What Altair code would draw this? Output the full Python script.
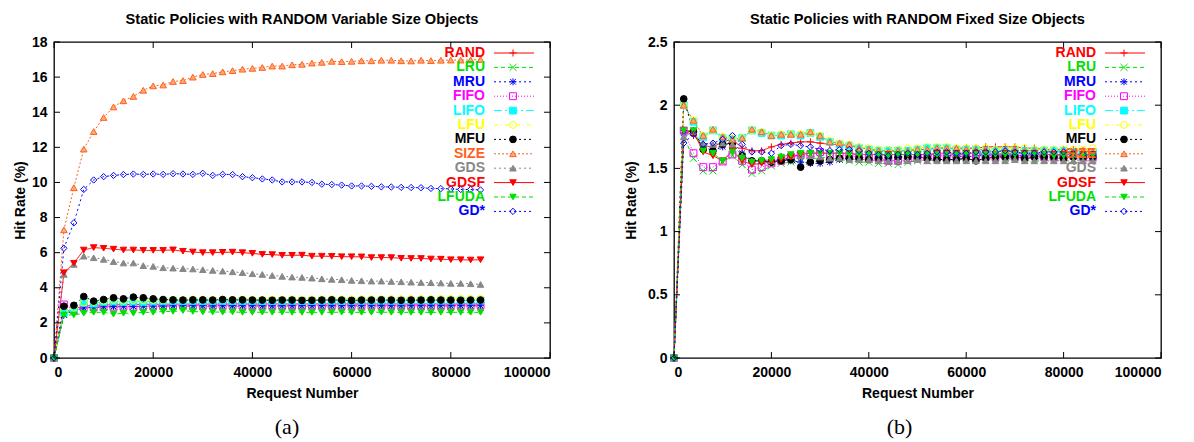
import altair as alt
import pandas as pd

# Request numbers at which the hit rate was sampled
requests = [0, 2000, 4000, 6000, 8000, 10000, 12000, 14000, 16000, 18000, 20000,
            22000, 24000, 26000, 28000, 30000, 32000, 34000, 36000, 38000, 40000,
            42000, 44000, 46000, 48000, 50000, 52000, 54000, 56000, 58000, 60000,
            62000, 64000, 66000, 68000, 70000, 72000, 74000, 76000, 78000, 80000,
            82000, 84000, 86000]

policies = ["RAND", "LRU", "MRU", "FIFO", "LIFO", "LFU", "MFU", "SIZE", "GDS",
            "GDSF", "LFUDA", "GD*"]

x_ticks = [0, 20000, 40000, 60000, 80000, 100000]
y_ticks_var = [0, 2, 4, 6, 8, 10, 12, 14, 16, 18]
y_ticks_fix = [0, 0.5, 1, 1.5, 2, 2.5]

# ---- (a) variable size objects: hit rate (%) ----
var_rand = [0, 2.6, 2.8, 2.95, 3.0, 3.02, 3.03, 3.04, 3.05, 3.05, 3.06, 3.06, 3.07, 3.07, 3.07,
            3.07, 3.07, 3.07, 3.08, 3.08, 3.07, 3.08, 3.08, 3.08, 3.08, 3.08, 3.08, 3.08, 3.08,
            3.08, 3.08, 3.08, 3.08, 3.08, 3.08, 3.08, 3.07, 3.08, 3.08, 3.08, 3.07, 3.08, 3.08, 3.07]
var_lru = [0, 2.5, 2.75, 2.85, 2.87, 2.9, 2.9, 2.92, 2.92, 2.93, 2.94, 2.94, 2.95, 2.95, 2.95,
           2.95, 2.95, 2.96, 2.95, 2.95, 2.96, 2.95, 2.96, 2.96, 2.95, 2.96, 2.96, 2.96, 2.96,
           2.96, 2.96, 2.96, 2.96, 2.96, 2.96, 2.96, 2.96, 2.96, 2.96, 2.96, 2.96, 2.96, 2.96, 2.96]
var_mru = [0, 2.45, 2.7, 2.85, 2.9, 2.92, 2.93, 2.95, 2.94, 2.96, 2.96, 2.97, 2.97, 2.98, 2.98,
           2.98, 2.97, 2.98, 2.98, 2.98, 2.98, 2.98, 2.97, 2.98, 2.98, 2.98, 2.98, 2.98, 2.98,
           2.98, 2.98, 2.98, 2.98, 2.98, 2.98, 2.98, 2.98, 2.98, 2.98, 2.98, 2.98, 2.98, 2.98, 2.98]
var_fifo = [0, 3.05, 2.75, 2.9, 2.88, 2.9, 2.92, 2.93, 2.92, 2.95, 2.97, 2.98, 2.99, 3.0, 3.0,
            3.0, 2.99, 3.0, 3.0, 2.99, 3.0, 3.0, 3.0, 2.99, 3.0, 3.0, 3.0, 3.0, 3.0,
            3.0, 3.0, 3.0, 3.0, 3.0, 3.0, 3.0, 3.0, 3.0, 3.0, 3.0, 3.0, 3.0, 3.0, 3.0]
var_lifo = [0, 2.6, 2.8, 3.15, 3.1, 3.2, 3.22, 3.2, 3.22, 3.2, 3.22, 3.23, 3.25, 3.24, 3.25,
            3.24, 3.25, 3.25, 3.24, 3.25, 3.25, 3.24, 3.25, 3.25, 3.26, 3.25, 3.25, 3.26, 3.26,
            3.25, 3.26, 3.26, 3.26, 3.27, 3.26, 3.26, 3.27, 3.27, 3.27, 3.27, 3.27, 3.28, 3.27, 3.28]
var_lfu = [0, 2.7, 2.85, 3.15, 3.2, 3.25, 3.3, 3.25, 3.3, 3.28, 3.3, 3.3, 3.33, 3.32, 3.34,
           3.33, 3.33, 3.34, 3.33, 3.34, 3.33, 3.33, 3.34, 3.34, 3.35, 3.34, 3.35, 3.35, 3.36,
           3.35, 3.35, 3.36, 3.36, 3.36, 3.37, 3.36, 3.37, 3.37, 3.37, 3.38, 3.37, 3.38, 3.38, 3.38]
var_mfu = [0, 2.95, 3.0, 3.5, 3.24, 3.33, 3.43, 3.37, 3.47, 3.43, 3.37, 3.33, 3.31, 3.3, 3.31,
           3.31, 3.3, 3.33, 3.31, 3.31, 3.3, 3.3, 3.29, 3.3, 3.3, 3.28, 3.29, 3.3, 3.31,
           3.3, 3.28, 3.3, 3.3, 3.31, 3.3, 3.29, 3.3, 3.3, 3.31, 3.3, 3.3, 3.29, 3.3, 3.3]
var_size = [0, 7.3, 9.7, 11.9, 12.9, 13.7, 14.3, 14.65, 14.9, 15.25, 15.5, 15.55, 15.75, 15.8, 16.0,
            16.15, 16.2, 16.3, 16.37, 16.45, 16.5, 16.55, 16.63, 16.63, 16.7, 16.73, 16.8, 16.84, 16.9,
            16.88, 16.9, 16.93, 16.93, 16.96, 16.96, 16.93, 16.92, 16.96, 16.94, 16.96, 16.97, 16.97, 16.98, 17.0]
var_gds = [0, 4.76, 5.33, 5.8, 5.71, 5.62, 5.49, 5.41, 5.41, 5.26, 5.22, 5.14, 5.12, 5.09, 5.07,
           5.03, 4.99, 4.95, 4.91, 4.86, 4.8, 4.76, 4.7, 4.65, 4.61, 4.59, 4.55, 4.51, 4.48,
           4.46, 4.42, 4.4, 4.38, 4.38, 4.36, 4.34, 4.32, 4.3, 4.29, 4.27, 4.25, 4.25, 4.23, 4.19]
var_gdsf = [0, 4.86, 5.4, 6.15, 6.29, 6.25, 6.2, 6.15, 6.15, 6.13, 6.13, 6.13, 6.16, 6.08, 6.04,
            6.0, 6.0, 6.02, 6.03, 6.0, 5.96, 5.9, 5.89, 5.85, 5.85, 5.86, 5.8, 5.8, 5.79,
            5.77, 5.77, 5.76, 5.72, 5.72, 5.72, 5.68, 5.67, 5.67, 5.64, 5.63, 5.6, 5.6, 5.58, 5.6]
var_lfuda = [0, 2.45, 2.45, 2.55, 2.6, 2.6, 2.5, 2.55, 2.55, 2.6, 2.6, 2.65, 2.65, 2.7, 2.65,
             2.62, 2.62, 2.61, 2.62, 2.6, 2.6, 2.61, 2.6, 2.61, 2.6, 2.6, 2.6, 2.6, 2.6,
             2.61, 2.6, 2.6, 2.6, 2.61, 2.6, 2.6, 2.6, 2.6, 2.6, 2.6, 2.6, 2.6, 2.6, 2.6]
var_gdstar = [0, 6.25, 7.7, 9.6, 10.14, 10.33, 10.4, 10.45, 10.48, 10.46, 10.48, 10.46, 10.5, 10.48, 10.46,
              10.52, 10.4, 10.46, 10.45, 10.33, 10.27, 10.2, 10.14, 10.03, 10.03, 10.03, 10.0, 9.9, 9.88,
              9.85, 9.8, 9.8, 9.78, 9.75, 9.74, 9.72, 9.71, 9.7, 9.66, 9.65, 9.63, 9.6, 9.6, 9.57]

# ---- (b) fixed size objects: hit rate (%) ----
fix_rand = [0, 1.80, 1.76, 1.68, 1.67, 1.71, 1.73, 1.66, 1.64, 1.64, 1.67, 1.69, 1.70, 1.71, 1.71,
            1.70, 1.69, 1.69, 1.68, 1.67, 1.65, 1.64, 1.64, 1.64, 1.64, 1.65, 1.65, 1.66, 1.66,
            1.66, 1.66, 1.66, 1.67, 1.67, 1.67, 1.67, 1.66, 1.66, 1.65, 1.65, 1.65, 1.65, 1.64, 1.63]
fix_lru = [0, 1.75, 1.58, 1.48, 1.48, 1.55, 1.60, 1.53, 1.46, 1.48, 1.52, 1.54, 1.55, 1.57, 1.58,
           1.58, 1.58, 1.57, 1.56, 1.55, 1.55, 1.54, 1.54, 1.53, 1.55, 1.56, 1.56, 1.57, 1.57,
           1.57, 1.58, 1.57, 1.57, 1.58, 1.58, 1.57, 1.58, 1.58, 1.57, 1.58, 1.58, 1.57, 1.58, 1.58]
fix_mru = [0, 1.78, 1.80, 1.67, 1.64, 1.67, 1.72, 1.62, 1.56, 1.56, 1.55, 1.58, 1.56, 1.55, 1.54,
           1.54, 1.55, 1.57, 1.58, 1.58, 1.58, 1.59, 1.58, 1.59, 1.59, 1.60, 1.60, 1.60, 1.60,
           1.60, 1.59, 1.60, 1.60, 1.61, 1.60, 1.60, 1.60, 1.61, 1.60, 1.61, 1.60, 1.60, 1.60, 1.61]
fix_fifo = [0, 1.80, 1.62, 1.51, 1.51, 1.555, 1.61, 1.56, 1.49, 1.51, 1.54, 1.56, 1.59, 1.605, 1.61,
            1.63, 1.61, 1.60, 1.60, 1.59, 1.58, 1.58, 1.56, 1.56, 1.58, 1.58, 1.59, 1.59, 1.59,
            1.59, 1.60, 1.59, 1.59, 1.59, 1.60, 1.59, 1.59, 1.60, 1.59, 1.59, 1.59, 1.60, 1.59, 1.59]
fix_lifo = [0, 2.0, 1.87, 1.75, 1.80, 1.74, 1.73, 1.74, 1.80, 1.78, 1.76, 1.76, 1.77, 1.76, 1.78,
            1.75, 1.71, 1.69, 1.68, 1.66, 1.65, 1.64, 1.64, 1.64, 1.64, 1.65, 1.66, 1.66, 1.66,
            1.65, 1.65, 1.65, 1.64, 1.64, 1.64, 1.64, 1.64, 1.64, 1.64, 1.64, 1.64, 1.63, 1.63, 1.63]
fix_lfu = [0, 2.0, 1.88, 1.76, 1.80, 1.75, 1.74, 1.74, 1.80, 1.79, 1.76, 1.77, 1.77, 1.77, 1.78,
           1.76, 1.72, 1.70, 1.69, 1.67, 1.66, 1.65, 1.65, 1.65, 1.66, 1.66, 1.67, 1.67, 1.67,
           1.66, 1.66, 1.66, 1.66, 1.65, 1.66, 1.66, 1.66, 1.65, 1.65, 1.65, 1.65, 1.65, 1.65, 1.66]
fix_mfu = [0, 2.05, 1.79, 1.65, 1.64, 1.69, 1.70, 1.60, 1.56, 1.56, 1.55, 1.56, 1.57, 1.51, 1.55,
           1.56, 1.57, 1.58, 1.58, 1.58, 1.57, 1.58, 1.59, 1.59, 1.59, 1.59, 1.58, 1.57, 1.57,
           1.57, 1.58, 1.56, 1.58, 1.59, 1.59, 1.59, 1.58, 1.59, 1.59, 1.59, 1.58, 1.59, 1.59, 1.59]
fix_size = [0, 2.0, 1.88, 1.76, 1.81, 1.75, 1.73, 1.74, 1.81, 1.79, 1.76, 1.77, 1.77, 1.77, 1.79,
            1.76, 1.71, 1.70, 1.69, 1.66, 1.65, 1.64, 1.63, 1.64, 1.64, 1.65, 1.65, 1.66, 1.66,
            1.66, 1.65, 1.65, 1.65, 1.64, 1.64, 1.65, 1.64, 1.64, 1.64, 1.63, 1.64, 1.63, 1.64, 1.63]
fix_gds = [0, 1.75, 1.79, 1.70, 1.69, 1.70, 1.69, 1.60, 1.56, 1.57, 1.56, 1.60, 1.60, 1.60, 1.60,
           1.59, 1.58, 1.58, 1.57, 1.57, 1.57, 1.56, 1.56, 1.56, 1.56, 1.57, 1.56, 1.56, 1.56,
           1.56, 1.56, 1.56, 1.56, 1.56, 1.56, 1.57, 1.56, 1.56, 1.56, 1.56, 1.56, 1.56, 1.56, 1.56]
fix_gdsf = [0, 1.80, 1.79, 1.63, 1.60, 1.56, 1.64, 1.56, 1.53, 1.54, 1.55, 1.57, 1.59, 1.61, 1.62,
            1.62, 1.62, 1.62, 1.62, 1.61, 1.61, 1.61, 1.61, 1.61, 1.61, 1.61, 1.61, 1.62, 1.62,
            1.62, 1.62, 1.62, 1.62, 1.61, 1.62, 1.62, 1.62, 1.62, 1.61, 1.61, 1.61, 1.61, 1.61, 1.61]
fix_lfuda = [0, 1.80, 1.80, 1.64, 1.62, 1.56, 1.63, 1.58, 1.55, 1.56, 1.57, 1.59, 1.61, 1.62, 1.62,
             1.62, 1.62, 1.62, 1.61, 1.61, 1.61, 1.61, 1.60, 1.61, 1.61, 1.61, 1.61, 1.61, 1.61,
             1.61, 1.61, 1.61, 1.61, 1.61, 1.61, 1.61, 1.61, 1.61, 1.61, 1.60, 1.60, 1.60, 1.60, 1.60]
fix_gdstar = [0, 1.70, 1.77, 1.69, 1.70, 1.73, 1.76, 1.69, 1.63, 1.63, 1.62, 1.68, 1.69, 1.68, 1.67,
              1.65, 1.64, 1.65, 1.65, 1.64, 1.62, 1.61, 1.60, 1.61, 1.62, 1.61, 1.62, 1.63, 1.63,
              1.62, 1.62, 1.63, 1.63, 1.63, 1.64, 1.63, 1.62, 1.62, 1.63, 1.63, 1.63, 1.62, 1.61, 1.61]

var_series = [var_rand, var_lru, var_mru, var_fifo, var_lifo, var_lfu, var_mfu, var_size,
              var_gds, var_gdsf, var_lfuda, var_gdstar]
fix_series = [fix_rand, fix_lru, fix_mru, fix_fifo, fix_lifo, fix_lfu, fix_mfu, fix_size,
              fix_gds, fix_gdsf, fix_lfuda, fix_gdstar]

# ---- gnuplot-like styling per policy ----
colors = ["#ff0000", "#00e000", "#0000ff", "#ff00ff", "#00ffff", "#ffff00", "#000000",
          "#ff6020", "#888888", "#ff0000", "#00e000", "#0000ff"]
fills = ["transparent", "transparent", "#0000ff", "transparent", "#00ffff", "transparent",
         "#000000", "#ffa870", "#888888", "#ff0000", "#00e000", "transparent"]
dashes = [[1, 0], [4, 3], [2, 3], [1, 2], [8, 3, 2, 3], [4, 3, 1, 3], [2, 3], [2, 2],
          [2, 3], [1, 0], [4, 3], [2, 3]]
widths = [1, 1, 1, 1, 1, 1, 1, 1, 1, 2, 1, 1]
shapes = ["M-1,0H1M0,-1V1", "M-1,-1L1,1M-1,1L1,-1",
          "M-1,0H1M0,-1V1M-0.8,-0.8L0.8,0.8M-0.8,0.8L0.8,-0.8",
          "square", "square", "circle", "circle", "triangle-up", "triangle-up",
          "triangle-down", "triangle-down", "diamond"]
sizes = [50, 40, 50, 45, 45, 45, 50, 55, 25, 60, 25, 50]

FONT = "Liberation Sans"
H = 316


def panel(title, series, ymax, yticks, W, tag, tag_dx, ytitle_pad):
    rows = []
    for name, vals in zip(policies, series):
        for r, v in zip(requests, vals):
            rows.append({"policy": name, "req": r, "rate": v})
    df = pd.DataFrame(rows)

    xs = alt.Scale(domain=[0, 100000], nice=False, zero=False)
    ys = alt.Scale(domain=[0, ymax], nice=False)
    x_axis = alt.Axis(values=x_ticks, format="d", title="Request Number",
                      labelPadding=7, titlePadding=7)
    y_axis = alt.Axis(values=yticks, labelExpr="'' + datum.value",
                      title="Hit Rate (%)", labelPadding=7, titlePadding=ytitle_pad)
    x_enc = alt.X("req:Q", scale=xs, axis=x_axis)
    y_enc = alt.Y("rate:Q", scale=ys, axis=y_axis)

    stroke = alt.Stroke("policy:N", scale=alt.Scale(domain=policies, range=colors), legend=None)
    dash = alt.StrokeDash("policy:N", scale=alt.Scale(domain=policies, range=dashes), legend=None)
    sw = alt.StrokeWidth("policy:N", scale=alt.Scale(domain=policies, range=widths), legend=None)
    shape = alt.Shape("policy:N", scale=alt.Scale(domain=policies, range=shapes), legend=None)
    fill = alt.Fill("policy:N", scale=alt.Scale(domain=policies, range=fills), legend=None)
    size = alt.Size("policy:N", scale=alt.Scale(domain=policies, range=sizes), legend=None)

    lines = alt.Chart(df).mark_line().encode(
        x=x_enc, y=y_enc, stroke=stroke, strokeDash=dash, strokeWidth=sw, detail="policy:N")
    points = alt.Chart(df).mark_point(filled=True, opacity=1, strokeWidth=1).encode(
        x=x_enc, y=y_enc, stroke=stroke, fill=fill, shape=shape, size=size)

    # key: label on the left, line sample with marker on the right;
    # rows are 14.4 px apart starting 11 px below the top of the plot
    key = alt.Chart(pd.DataFrame({"policy": policies, "i": list(range(len(policies)))})) \
        .transform_calculate(ly=f"{ymax} * (1 - (11 + datum.i * 14.4) / {H})")
    ly = alt.Y("ly:Q", scale=ys, axis=y_axis)
    key_text = key.mark_text(align="right", baseline="middle", font=FONT, fontSize=14,
                             fontWeight="bold").encode(
        x=alt.value(W - 65), y=ly, text="policy:N",
        color=alt.Color("policy:N", scale=alt.Scale(domain=policies, range=colors), legend=None))
    key_line = key.mark_rule().encode(
        x=alt.value(W - 56), x2=alt.value(W - 16), y=ly, stroke=stroke, strokeDash=dash,
        strokeWidth=sw)
    key_mark = key.mark_point(filled=True, opacity=1, strokeWidth=1).encode(
        x=alt.value(W - 37), y=ly, stroke=stroke, fill=fill, shape=shape, size=size)

    # inward ticks on all four sides, gnuplot style
    xt = alt.Chart(pd.DataFrame({"t": x_ticks}))
    yt = alt.Chart(pd.DataFrame({"t": yticks}))
    tx = alt.X("t:Q", scale=xs, axis=x_axis)
    ty = alt.Y("t:Q", scale=ys, axis=y_axis)
    t_bottom = xt.mark_rule(color="black").encode(x=tx, y=alt.value(H), y2=alt.value(H - 6))
    t_top = xt.mark_rule(color="black").encode(x=tx, y=alt.value(0), y2=alt.value(6))
    t_left = yt.mark_rule(color="black").encode(y=ty, x=alt.value(0), x2=alt.value(6))
    t_right = yt.mark_rule(color="black").encode(y=ty, x=alt.value(W), x2=alt.value(W - 6))

    tag_mark = alt.Chart(pd.DataFrame({"t": [tag]})).mark_text(
        font="Liberation Serif", fontSize=22, baseline="middle", align="center").encode(
        x=alt.value(W / 2 + tag_dx), y=alt.value(H + 69), text="t:N")

    return alt.layer(
        lines, points, t_bottom, t_top, t_left, t_right, key_text, key_line, key_mark, tag_mark
    ).properties(
        width=W, height=H,
        title=alt.TitleParams(title, font=FONT, fontSize=14.6, fontWeight="bold",
                              color="black", offset=8, anchor="middle"),
    )


left = panel("Static Policies with RANDOM Variable Size Objects", var_series, 18,
             y_ticks_var, 496, "(a)", -15, 4)
right = panel("Static Policies with RANDOM Fixed Size Objects", fix_series, 2.5,
              y_ticks_fix, 487, "(b)", -18, 9)

chart = alt.hconcat(left, right, spacing=124, bounds="flush").properties(
    padding={"left": 12, "top": 11, "right": 0, "bottom": 0},
    autosize=alt.AutoSizeParams(type="pad"),
    background="white",
).configure_view(
    stroke="black", strokeWidth=1.3
).configure_axis(
    domain=False, ticks=False, grid=False,
    labelFont=FONT, labelFontSize=14, labelFontWeight="bold", labelColor="black",
    titleFont=FONT, titleFontSize=14, titleFontWeight="bold", titleColor="black",
)

chart.save("out.html", embed_options={"renderer": "svg", "actions": False})
